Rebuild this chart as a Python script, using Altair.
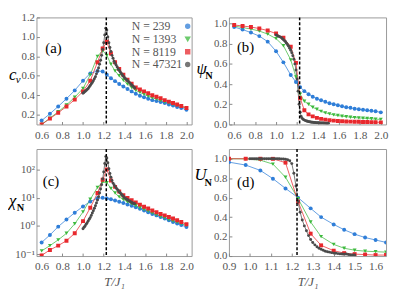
import altair as alt
import pandas as pd

N_labels = ["N = 239", "N = 1393", "N = 8119", "N = 47321"]
colors = ["#2f7ed8", "#3dba3d", "#e8282d", "#4a4a4a"]
shapes = ["circle", "triangle-down", "square", "circle"]

T_c = 1.225

T_grid = [0.60, 0.68, 0.76, 0.84, 0.92, 1.00, 1.07, 1.14, 1.19, 1.23, 1.27, 1.31, 1.35, 1.39, 1.43,
          1.47, 1.51, 1.55, 1.59, 1.63, 1.67, 1.71, 1.75, 1.79, 1.83, 1.87, 1.91, 1.95, 2.00]
T_black = [1.00, 1.01, 1.02, 1.03, 1.04, 1.05, 1.06, 1.07, 1.08, 1.09,
           1.10, 1.11, 1.12, 1.13, 1.14, 1.15, 1.16, 1.17, 1.18, 1.19,
           1.20, 1.21, 1.22, 1.23, 1.24, 1.25, 1.26, 1.27, 1.28, 1.29,
           1.30, 1.31, 1.32, 1.33, 1.34, 1.35, 1.36, 1.37, 1.38, 1.39,
           1.40, 1.41, 1.42, 1.43, 1.44, 1.45, 1.46, 1.47, 1.48, 1.49, 1.50]
T_d = [0.90, 0.98, 1.05, 1.11, 1.17, 1.23, 1.29, 1.34, 1.40, 1.45, 1.50, 1.55, 1.60, 1.65]

# (a) specific heat
cv_blue = [0.14, 0.21, 0.285, 0.365, 0.45, 0.55, 0.625, 0.65, 0.645, 0.61, 0.575, 0.545, 0.515, 0.49, 0.465,
           0.44, 0.415, 0.395, 0.38, 0.365, 0.35, 0.34, 0.33, 0.32, 0.305, 0.295, 0.28, 0.27, 0.25]
cv_green = [0.10, 0.165, 0.23, 0.30, 0.38, 0.47, 0.61, 0.80, 0.86, 0.81, 0.72, 0.65, 0.60, 0.555, 0.515,
            0.48, 0.45, 0.43, 0.41, 0.39, 0.375, 0.36, 0.345, 0.33, 0.32, 0.305, 0.295, 0.285, 0.265]
cv_red = [0.10, 0.16, 0.22, 0.285, 0.355, 0.44, 0.55, 0.74, 0.88, 0.95, 0.83, 0.74, 0.67, 0.61, 0.56,
          0.52, 0.48, 0.46, 0.44, 0.42, 0.40, 0.385, 0.37, 0.35, 0.335, 0.32, 0.305, 0.29, 0.27]
cv_black = [0.42, 0.43, 0.44, 0.45, 0.46, 0.47, 0.485, 0.50, 0.515, 0.53,
            0.55, 0.57, 0.59, 0.62, 0.65, 0.68, 0.72, 0.76, 0.81, 0.87,
            0.94, 1.02, 1.09, 1.07, 1.00, 0.94, 0.89, 0.85, 0.81, 0.78,
            0.75, 0.73, 0.71, 0.69, 0.67, 0.655, 0.64, 0.625, 0.61, 0.595,
            0.58, 0.57, 0.56, 0.55, 0.54, 0.53, 0.515, 0.505, 0.495, 0.485, 0.475]

# (b) order parameter
psi_blue = [0.965, 0.94, 0.91, 0.875, 0.82, 0.725, 0.615, 0.49, 0.42, 0.37, 0.33, 0.30, 0.275, 0.255, 0.24,
            0.225, 0.21, 0.20, 0.19, 0.18, 0.17, 0.165, 0.155, 0.15, 0.145, 0.14, 0.135, 0.13, 0.12]
psi_green = [0.975, 0.96, 0.945, 0.925, 0.895, 0.85, 0.78, 0.64, 0.47, 0.30, 0.23, 0.20, 0.17, 0.15, 0.13,
             0.115, 0.105, 0.095, 0.088, 0.082, 0.077, 0.072, 0.068, 0.065, 0.062, 0.059, 0.056, 0.053, 0.05]
psi_red = [0.985, 0.975, 0.965, 0.95, 0.93, 0.90, 0.86, 0.77, 0.61, 0.26, 0.14, 0.10, 0.08, 0.065, 0.055,
           0.048, 0.042, 0.038, 0.035, 0.032, 0.03, 0.028, 0.027, 0.026, 0.025, 0.024, 0.023, 0.022, 0.021]
psi_black = [0.885, 0.88, 0.875, 0.87, 0.865, 0.86, 0.85, 0.84, 0.83, 0.82,
             0.805, 0.79, 0.775, 0.755, 0.735, 0.71, 0.68, 0.645, 0.60, 0.54,
             0.45, 0.33, 0.20, 0.12, 0.08, 0.06, 0.05, 0.043, 0.038, 0.034,
             0.031, 0.028, 0.026, 0.024, 0.022, 0.021, 0.02, 0.019, 0.018, 0.017,
             0.016, 0.016, 0.015, 0.015, 0.014, 0.014, 0.013, 0.013, 0.012, 0.012, 0.012]

# (c) susceptibility
chi_blue = [0.26, 0.48, 0.95, 1.7, 3.0, 5.0, 7.5, 9.8, 10.2, 9.6, 9.0, 8.2, 7.4, 6.6, 5.9,
            5.3, 4.7, 4.1, 3.6, 3.1, 2.7, 2.4, 2.1, 1.85, 1.6, 1.4, 1.22, 1.08, 0.93]
chi_green = [0.13, 0.2, 0.32, 0.55, 1.2, 3.2, 9.0, 24, 37, 35, 22, 15, 11, 8.8, 7.3,
             6.2, 5.3, 4.5, 3.9, 3.4, 2.9, 2.5, 2.2, 1.95, 1.7, 1.5, 1.35, 1.2, 1.05]
chi_red = [0.09, 0.14, 0.2, 0.3, 0.55, 1.5, 4.5, 15, 45, 105, 42, 25, 17, 12.5, 10,
           8.3, 7.0, 5.8, 4.9, 4.2, 3.6, 3.1, 2.7, 2.4, 2.1, 1.85, 1.6, 1.4, 1.15]
chi_black = [0.8, 0.9, 1.0, 1.15, 1.3, 1.5, 1.75, 2.0, 2.4, 2.9,
             3.5, 4.3, 5.3, 6.7, 8.5, 11, 15, 21, 30, 48,
             85, 170, 300, 270, 180, 110, 75, 55, 42, 34,
             30, 26, 23, 20.5, 18.5, 16.5, 15, 13.8, 12.6, 11.4,
             10.2, 9.6, 9.1, 8.6, 8.1, 7.7, 7.3, 6.9, 6.6, 6.4, 6.2]

# (d) cumulant
U_blue = [0.965, 0.935, 0.88, 0.795, 0.695, 0.60, 0.49, 0.40, 0.325, 0.27, 0.225, 0.19, 0.165, 0.14]
U_green = [1.0, 0.998, 0.985, 0.945, 0.81, 0.59, 0.35, 0.20, 0.12, 0.08, 0.06, 0.05, 0.045, 0.04]
U_red = [1.0, 1.0, 1.0, 0.999, 0.96, 0.56, 0.23, 0.11, 0.055, 0.03, 0.02, 0.015, 0.01, 0.01]
U_black = [1.0, 1.0, 1.0, 1.0, 1.0, 1.0, 1.0, 1.0, 1.0, 1.0,
           1.0, 1.0, 1.0, 1.0, 1.0, 0.998, 0.997, 0.995, 0.99, 0.98,
           0.95, 0.85, 0.72, 0.56, 0.45, 0.37, 0.31, 0.26, 0.21, 0.17,
           0.14, 0.115, 0.095, 0.08, 0.07, 0.06, 0.05, 0.045, 0.04, 0.035,
           0.03, 0.028, 0.025, 0.022, 0.02, 0.018, 0.02, 0.016, 0.012, 0.01, 0.01]

FONT = "Liberation Serif, DejaVu Serif, serif"
GRAY = "#555555"
BIG_N = N_labels[3]


def long_df(ts_list, vals_list):
    rows = []
    for lab, ts, vals in zip(N_labels, ts_list, vals_list):
        for t, v in zip(ts, vals):
            rows.append({"T": t, "v": v, "N": lab})
    return pd.DataFrame(rows)


def panel(df, xdom, ydom, xticks, yticks, width, height, letter, letter_xy,
          sym, sym_xy, sub, sub_xy, sub_bold=True, ylog=False, xtitle=None, legend=None,
          yfmt=".1f", ylabelexpr=None, xfmt=".1f"):
    xaxis = alt.Axis(values=xticks, format=xfmt, labelFlush=False, title=xtitle,
                     labelOverlap=False, labelPadding=5, titlePadding=3, labelFontSize=11.5)
    yargs = dict(values=yticks, title=None, labelOverlap=False, labelPadding=2)
    if ylabelexpr:
        yargs["labelExpr"] = ylabelexpr
    else:
        yargs["format"] = yfmt
    yaxis = alt.Axis(**yargs)
    if ylog:
        yscale = alt.Scale(type="log", domain=ydom, nice=False)
    else:
        yscale = alt.Scale(domain=ydom, nice=False, zero=False)
    x = alt.X("T:Q", scale=alt.Scale(domain=xdom, nice=False, zero=False), axis=xaxis)
    y = alt.Y("v:Q", scale=yscale, axis=yaxis)
    cscale = alt.Scale(domain=N_labels, range=colors)
    sscale = alt.Scale(domain=N_labels, range=shapes)
    cenc = alt.Color("N:N", scale=cscale, legend=legend)
    senc = alt.Shape("N:N", scale=sscale, legend=legend)
    base = alt.Chart(df)
    lines = base.mark_line(strokeWidth=1, opacity=0.75, clip=True).encode(
        x=x, y=y, color=cenc)
    pts = base.transform_filter(alt.datum.N != BIG_N).mark_point(
        filled=True, opacity=1, size=16, clip=True).encode(x=x, y=y, color=cenc, shape=senc)
    pts_b = base.transform_filter(alt.datum.N == BIG_N).mark_point(
        filled=True, opacity=1, size=9, clip=True).encode(x=x, y=y, color=cenc, shape=senc)
    rule = alt.Chart(pd.DataFrame({"T": [T_c]})).mark_rule(
        color="black", strokeDash=[3, 2], strokeWidth=1.5).encode(x=alt.X("T:Q", axis=xaxis))
    let = alt.Chart(pd.DataFrame({"t": [letter]})).mark_text(
        font=FONT, fontSize=15, color="black").encode(
        x=alt.datum(letter_xy[0], axis=xaxis), y=alt.datum(letter_xy[1], axis=yaxis), text="t:N")
    t1 = alt.Chart(pd.DataFrame({"t": [sym]})).mark_text(
        font=FONT, fontSize=17, fontStyle="italic", align="left", baseline="middle",
        color="black").encode(x=alt.value(sym_xy[0]), y=alt.value(sym_xy[1]), text="t:N")
    t2 = alt.Chart(pd.DataFrame({"t": [sub]})).mark_text(
        font=FONT, fontSize=10.5 if sub_bold else 11, fontWeight="bold" if sub_bold else "normal",
        fontStyle="normal" if sub_bold else "italic", align="left", baseline="middle",
        color="black").encode(x=alt.value(sub_xy[0]), y=alt.value(sub_xy[1]), text="t:N")
    return alt.layer(lines, pts, pts_b, rule, let, t1, t2).properties(width=width, height=height)


legend_a = alt.Legend(orient="none", legendX=85, legendY=3, title=None,
                      labelFont=FONT, labelFontSize=12, labelColor=GRAY,
                      labelOffset={"expr": "-63"}, symbolOffset=63, symbolSize=16,
                      rowPadding=1, padding=0)

H = 109
Wl, Wr = 158, 160
XT = [0.6, 0.8, 1.0, 1.2, 1.4, 1.6, 1.8, 2.0]

pa = panel(long_df([T_grid, T_grid, T_grid, T_black], [cv_blue, cv_green, cv_red, cv_black]),
           [0.55, 2.05], [0.1, 1.2], XT,
           [0.2, 0.4, 0.6, 0.8, 1.0, 1.2], Wl, H, "(a)", (0.715, 0.89),
           "c", (-28, 59), "v", (-21, 64), sub_bold=False, legend=legend_a)
pb = panel(long_df([T_grid, T_grid, T_grid, T_black], [psi_blue, psi_green, psi_red, psi_black]),
           [0.55, 2.05], [0.0, 1.06], XT,
           [0.0, 0.2, 0.4, 0.6, 0.8, 1.0], Wr, H, "(b)", (0.708, 0.77),
           "ψ", (-33, 53), "N", (-24, 60))
pc = panel(long_df([T_grid, T_grid, T_grid, T_black], [chi_blue, chi_green, chi_red, chi_black]),
           [0.55, 2.05], [0.085, 560], XT,
           [0.1, 1, 10, 100], Wl, H, "(c)", (0.69, 40),
           "χ", (-28, 53), "N", (-20, 60), ylog=True, xtitle="T/J₁",
           ylabelexpr="datum.value < 0.5 ? '10⁻¹' : datum.value < 5 ? '10⁰' : datum.value < 50 ? '10¹' : '10²'")
pd_ = panel(long_df([T_d, T_d, T_d, T_black], [U_blue, U_green, U_red, U_black]),
            [0.9, 1.65], [0.0, 1.1], [0.9, 1.0, 1.1, 1.2, 1.3, 1.4, 1.5, 1.6],
            [0.0, 0.2, 0.4, 0.6, 0.8, 1.0], Wr, H, "(d)", (0.98, 0.76),
            "U", (-35, 27), "N", (-25, 35), xtitle="T/J₁")

chart = alt.concat(pa, pb, pc, pd_, columns=2, spacing={"row": 25, "column": 38},
                   bounds="flush").resolve_scale(
    x="independent", y="independent",
    color="independent", shape="independent"
).properties(padding=0).configure_view(
    stroke="#999999", strokeWidth=1
).configure_axis(
    labelFont=FONT, labelFontSize=11, labelColor=GRAY, grid=False, domain=False,
    tickColor="#888888", tickSize=3, offset=-3, labelOverlap=False,
    titleFont=FONT, titleFontSize=13, titleFontStyle="italic", titleFontWeight="normal",
    titleColor=GRAY
)

chart.save("out.html", embed_options={"renderer": "svg", "actions": False})
